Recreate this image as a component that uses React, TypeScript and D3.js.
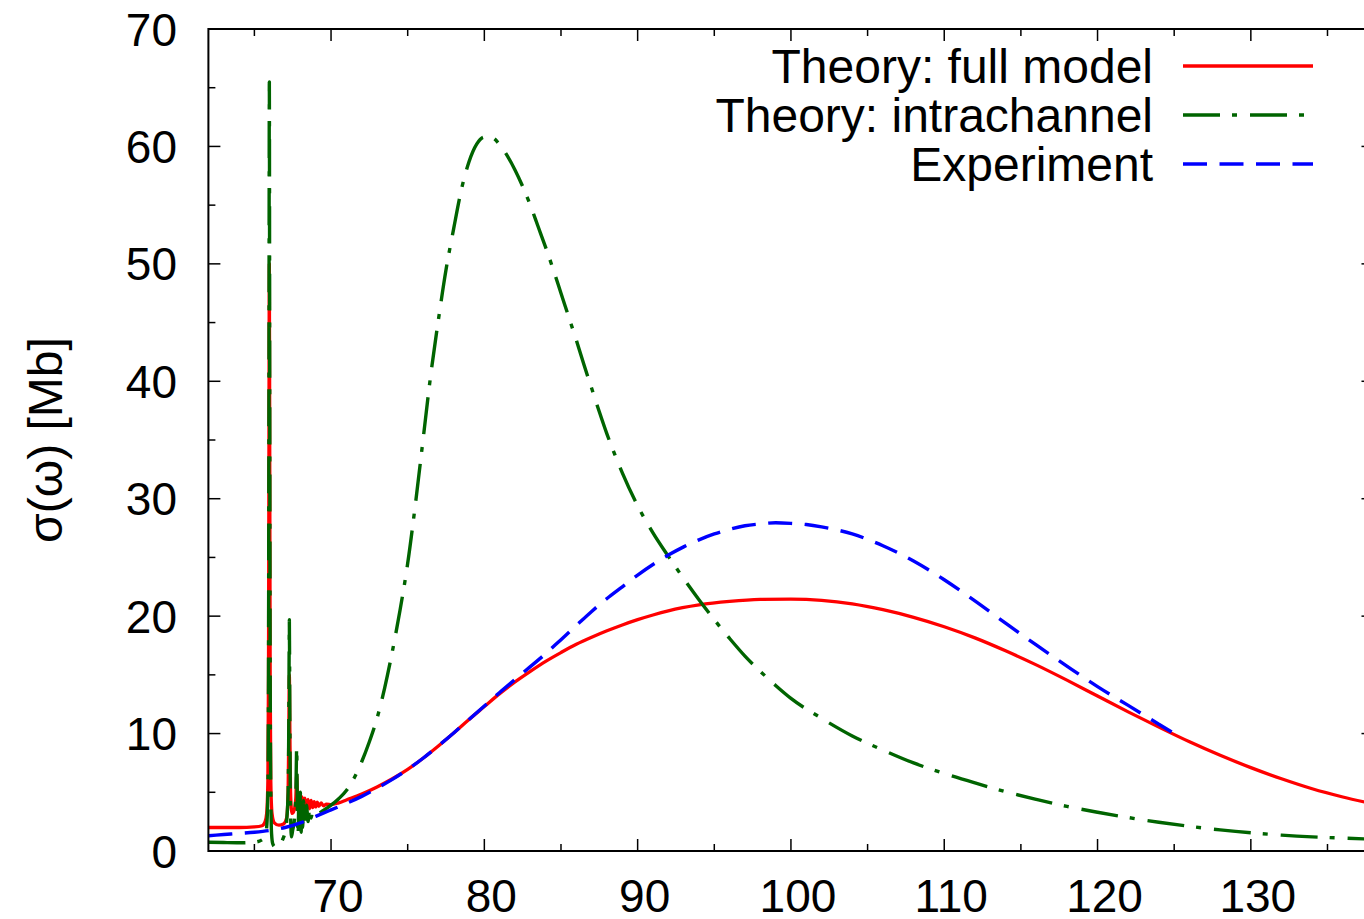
import React from "react";
import * as d3 from "d3";

type P = [number, number];

// Theory: full model (red)
const fullModel: P[] = [
  [62, 2.0], [63, 2.0], [64, 2.0], [65, 2.05], [65.5, 2.15], [65.7, 2.5], [65.8, 3.2],
  [65.88, 6], [65.92, 15], [65.95, 35], [65.975, 50], [66.0, 35], [66.03, 15], [66.07, 6],
  [66.15, 3.2], [66.3, 2.4], [66.6, 2.2], [66.9, 2.3], [67.1, 2.8], [67.2, 5], [67.25, 11],
  [67.28, 15], [67.31, 11], [67.36, 5], [67.45, 3.2], [67.6, 3.5], [67.7, 4.5], [67.76, 6.5],
  [67.82, 4.0], [67.9, 4.7], [68.0, 3.3], [68.1, 4.6], [68.2, 3.4], [68.3, 4.5], [68.4, 3.5],
  [68.5, 4.4], [68.6, 3.6], [68.7, 4.3], [68.8, 3.7], [68.9, 4.2], [69.0, 3.75], [69.1, 4.15],
  [69.2, 3.8], [69.35, 4.1], [69.5, 3.85], [69.7, 4.0], [70, 3.95], [70.5, 4.1], [71, 4.35],
  [72, 4.85], [73, 5.45], [74, 6.15], [75, 6.95], [76, 7.9], [77, 8.95], [78, 10.05],
  [79, 11.2], [80, 12.3], [81, 13.4], [82, 14.4], [83, 15.3], [84, 16.15], [85, 16.9],
  [86, 17.6], [87, 18.2], [88, 18.75], [89, 19.25], [90, 19.7], [91, 20.1], [92, 20.45],
  [94, 20.95], [96, 21.25], [98, 21.42], [100, 21.45], [102, 21.35], [104, 21.05],
  [106, 20.55], [108, 19.9], [110, 19.1], [112, 18.15], [114, 17.05], [116, 15.85],
  [118, 14.55], [120, 13.2], [122, 11.85], [124, 10.55], [126, 9.3], [128, 8.15], [130, 7.1],
  [132, 6.15], [134, 5.3], [136, 4.6], [138, 4.0],
];

// Theory: intrachannel (green)
const intrachannel: P[] = [
  [62, 0.75], [63, 0.72], [64, 0.7], [65, 0.75], [65.5, 0.95], [65.7, 1.3], [65.8, 2.0],
  [65.88, 5], [65.92, 15], [65.95, 40], [65.975, 65.5], [66.0, 40], [66.03, 15], [66.07, 5],
  [66.12, 1.5], [66.2, 0.6], [66.35, 0.35], [66.5, 0.4], [66.7, 0.6], [66.85, 1.0], [67.0, 1.6],
  [67.1, 2.5], [67.2, 5], [67.25, 12], [67.28, 19.7], [67.31, 12], [67.35, 4], [67.42, 1.2],
  [67.5, 1.8], [67.6, 2.5], [67.7, 4.5], [67.76, 8.8], [67.8, 4.0], [67.85, 1.3], [67.9, 4.2],
  [67.95, 1.5], [68.0, 5.0], [68.05, 1.6], [68.1, 4.6], [68.15, 2.0], [68.2, 4.3], [68.3, 2.2],
  [68.4, 3.9], [68.5, 2.5], [68.6, 3.6], [68.7, 2.8], [68.8, 3.4], [69.0, 3.1], [69.5, 3.45],
  [70, 3.9], [70.5, 4.45], [71, 5.15], [71.5, 6.2], [72, 7.6], [72.5, 9.3], [73, 11.3],
  [73.5, 13.9], [74, 17.0], [74.5, 20.5], [75, 24.5], [75.5, 29.5], [76, 35.0], [76.5, 40.5],
  [77, 45.2], [77.5, 49.5], [78, 53.0], [78.5, 56.3], [79, 58.7], [79.5, 60.2], [80, 60.8],
  [80.5, 60.75], [81, 60.15], [81.5, 59.2], [82, 58.0], [82.5, 56.6], [83, 55.0], [83.5, 53.2],
  [84, 51.4], [84.5, 49.5], [85, 47.5], [85.5, 45.5], [86, 43.5], [86.5, 41.4], [87, 39.4],
  [87.5, 37.4], [88, 35.5], [88.5, 33.8], [89, 32.2], [90, 29.4], [91, 27.1], [92, 25.1],
  [93, 23.2], [94, 21.4], [95, 19.7], [96, 18.1], [97, 16.6], [98, 15.3], [99, 14.1],
  [100, 13.0], [102, 11.3], [104, 9.8], [106, 8.6], [108, 7.5], [110, 6.6], [112, 5.8],
  [114, 5.05], [116, 4.4], [118, 3.8], [120, 3.3], [122, 2.85], [124, 2.45], [126, 2.1],
  [128, 1.8], [130, 1.55], [132, 1.35], [134, 1.2], [136, 1.1], [138, 1.0],
];

// Experiment (blue)
const experiment: P[] = [
  [62, 1.3], [63, 1.4], [64, 1.5], [65, 1.6], [66, 1.75], [67, 2.0], [68, 2.4], [69, 2.95],
  [70, 3.5], [71, 4.05], [72, 4.65], [73, 5.35], [74, 6.1], [75, 6.95], [76, 7.9], [77, 8.95],
  [78, 10.05], [79, 11.2], [80, 12.35], [81, 13.5], [82, 14.6], [83, 15.7], [84, 16.8],
  [85, 18.0], [86, 19.2], [87, 20.4], [88, 21.5], [89, 22.5], [90, 23.5], [91, 24.4],
  [92, 25.2], [93, 25.9], [94, 26.5], [95, 27.0], [96, 27.4], [97, 27.7], [98, 27.85],
  [99, 27.95], [100, 27.9], [101, 27.8], [102, 27.6], [104, 27.0], [106, 26.0], [108, 24.7],
  [110, 23.1], [112, 21.3], [114, 19.4], [116, 17.55], [118, 15.75], [120, 14.0], [122, 12.4],
  [124, 10.8], [125, 10.0],
];

const xTicks = [65, 70, 75, 80, 85, 90, 95, 100, 105, 110, 115, 120, 125, 130, 135];
const xLabels = [70, 80, 90, 100, 110, 120, 130];
const yTicks = [0, 5, 10, 15, 20, 25, 30, 35, 40, 45, 50, 55, 60, 65, 70];
const yLabels = [0, 10, 20, 30, 40, 50, 60, 70];

const seriesNames = ["Theory: full model", "Theory: intrachannel", "Experiment"];
const seriesColors = ["#ff0000", "#006400", "#0000ff"];
const seriesDash = ["none", "37,12,5,13", "24,12.5"];
const seriesWidth = [3.3, 3.4, 3.4];

const W = 1364;
const H = 919;
const FONT = "'Liberation Sans', Arial, Helvetica, sans-serif";

export default function App() {
  const x = d3.scaleLinear().domain([62, 138]).range([208.4, 208.4 + 76 * 15.33]);
  const y = d3.scaleLinear().domain([0, 70]).range([851, 29]);
  const [x0, x1] = x.range();
  const [y0, y1] = y.range();

  const line = d3
    .line<P>()
    .x((d) => x(d[0]))
    .y((d) => y(d[1]))
    .curve(d3.curveMonotoneX);

  const data = [fullModel, intrachannel, experiment];

  return (
    <svg
      width={W}
      height={H}
      style={{ position: "absolute", left: 0, top: 0, background: "#fff" }}
      fontFamily={FONT}
    >
      <defs>
        <clipPath id="plot">
          <rect x={x0} y={y1} width={x1 - x0} height={y0 - y1} />
        </clipPath>
      </defs>
      <rect x={0} y={0} width={W} height={H} fill="#fff" />

      {/* ticks */}
      <g stroke="#000" strokeWidth={1.5}>
        {xTicks.map((t) => {
          const len = t % 10 === 0 ? 12 : 7;
          return (
            <g key={"xt" + t}>
              <line x1={x(t)} x2={x(t)} y1={y0} y2={y0 - len} />
              <line x1={x(t)} x2={x(t)} y1={y1} y2={y1 + len} />
            </g>
          );
        })}
        {yTicks.map((t) => {
          const len = t % 10 === 0 ? 12 : 7;
          return (
            <g key={"yt" + t}>
              <line x1={x0} x2={x0 + len} y1={y(t)} y2={y(t)} />
              <line x1={x1} x2={x1 - len} y1={y(t)} y2={y(t)} />
            </g>
          );
        })}
      </g>

      {/* curves */}
      <g clipPath="url(#plot)" fill="none">
        {data.map((d, i) => (
          <path
            key={"s" + i}
            d={line(d) || ""}
            stroke={seriesColors[i]}
            strokeWidth={seriesWidth[i]}
            strokeDasharray={seriesDash[i]}
            strokeLinejoin="round"
          />
        ))}
      </g>

      {/* frame */}
      <rect
        x={x0}
        y={y1}
        width={x1 - x0}
        height={y0 - y1}
        fill="none"
        stroke="#000"
        strokeWidth={2}
      />

      {/* tick labels */}
      <g fontSize={46} fill="#000">
        {xLabels.map((t) => (
          <text key={"xl" + t} x={x(t) + 7} y={912} textAnchor="middle">
            {t}
          </text>
        ))}
        {yLabels.map((t) => (
          <text key={"yl" + t} x={177} y={y(t) + 16.5} textAnchor="end">
            {t}
          </text>
        ))}
      </g>

      {/* y-axis title */}
      <text
        transform="translate(62,440) rotate(-90)"
        textAnchor="middle"
        fontSize={48}
        fill="#000"
      >
        σ(ω) [Mb]
      </text>

      {/* legend */}
      <g>
        {seriesNames.map((n, i) => {
          const cy = 66 + i * 49;
          return (
            <g key={"lg" + i}>
              <text x={1153} y={cy + 17} textAnchor="end" fontSize={48} fill="#000">
                {n}
              </text>
              <line
                x1={1183}
                x2={1313}
                y1={cy}
                y2={cy}
                stroke={seriesColors[i]}
                strokeWidth={seriesWidth[i]}
                strokeDasharray={seriesDash[i]}
              />
            </g>
          );
        })}
      </g>
    </svg>
  );
}
